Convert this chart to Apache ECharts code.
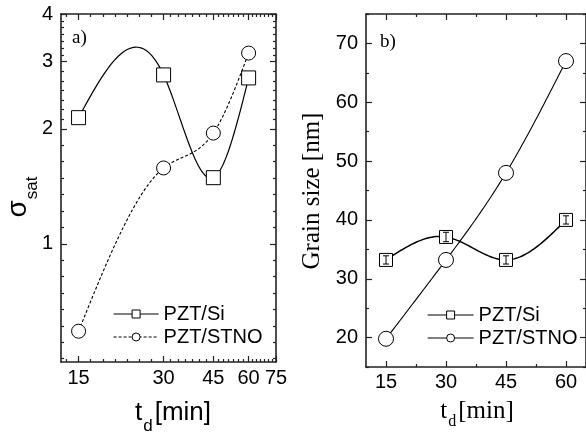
<!DOCTYPE html>
<html>
<head>
<meta charset="utf-8">
<script src="https://cdn.jsdelivr.net/npm/echarts@6/dist/echarts.min.js"></script>
<style>html,body{margin:0;padding:0;background:#fff;}#c{width:586px;height:434px;}</style>
</head>
<body>
<div id="c"></div>
<script>
// ---- data ----
const tMin = [15, 30, 45, 60];
const sigmaSi = [2.14, 2.77, 1.49, 2.72];
const sigmaSTNO = [0.59, 1.58, 1.95, 3.16];
const grainSi = [33.2, 37.1, 33.2, 40.0];
const grainSiErr = [0.7, 0.8, 0.7, 0.7];
const grainSTNO = [19.8, 33.2, 48.0, 67.0];
// ---- tick labels ----
const aXTicks = [15, 30, 45, 60, 75];
const aYTicks = [1, 2, 3, 4];
const bXTicks = [15, 30, 45, 60];
const bXMinor = [22.5, 37.5, 52.5];
const bYTicks = [20, 30, 40, 50, 60, 70];
const bYMinor = [15, 25, 35, 45, 55, 65, 75];

function logMinors(majors, lo, n) {
  const out = [];
  for (let i = 0; i < majors.length - 1; i++) {
    const r = Math.pow(majors[i + 1] / majors[i], 1 / (n + 1));
    for (let k = 1; k <= n; k++) out.push(majors[i] * Math.pow(r, k));
  }
  const r0 = Math.pow(majors[1] / majors[0], 1 / (n + 1));
  let v = majors[0] / r0;
  while (v >= lo) { out.push(v); v /= r0; }
  return out;
}
const aXMinor = logMinors(aXTicks, 13, 6);
const aYMinor = logMinors(aYTicks, 0.49, 6);

const AX = '#222';
function ax(base, pos, ticks, len, labels, showLine, margin) {
  return Object.assign({}, base, {
    position: pos,
    axisLine: { show: showLine, onZero: false, lineStyle: { color: AX, width: 1.6 } },
    axisTick: { show: true, inside: true, length: len, customValues: ticks, lineStyle: { color: AX, width: 1.2 } },
    axisLabel: labels ? { show: true, customValues: labels, margin: margin, fontSize: 20, fontFamily: 'Liberation Sans', color: '#000' } : { show: false },
    splitLine: { show: false },
    minorTick: { show: false },
    minorSplitLine: { show: false }
  });
}

const aX = { type: 'log', logBase: 10, min: 13, max: 75, gridIndex: 0 };
const aY = { type: 'log', logBase: 10, min: 0.49, max: 4, gridIndex: 0 };
const bX = { type: 'value', min: 10, max: 65, gridIndex: 1 };
const bY = { type: 'value', min: 15, max: 75, gridIndex: 1 };

const xAxes = [
  ax(aX, 'bottom', aXTicks, 6, aXTicks, true, 6),
  ax(aX, 'bottom', aXMinor, 3, null, false),
  ax(aX, 'top', aXTicks, 6, null, true),
  ax(aX, 'top', aXMinor, 3, null, false),
  ax(bX, 'bottom', bXTicks, 6, bXTicks, true, 5),
  ax(bX, 'bottom', bXMinor, 3, null, false),
  ax(bX, 'top', bXTicks, 6, null, true),
  ax(bX, 'top', bXMinor, 3, null, false)
];
const yAxes = [
  ax(aY, 'left', aYTicks, 6, aYTicks, true, 8),
  ax(aY, 'left', aYMinor, 3, null, false),
  ax(aY, 'right', aYTicks, 6, null, true),
  ax(aY, 'right', aYMinor, 3, null, false),
  ax(bY, 'left', bYTicks, 6, bYTicks, true, 8),
  ax(bY, 'left', bYMinor, 3, null, false),
  ax(bY, 'right', bYTicks, 6, null, true),
  ax(bY, 'right', bYMinor, 3, null, false)
];

const hollow = { color: '#fff', borderColor: '#000', borderWidth: 1 };
function pairs(xs, ys) { return xs.map((x, i) => [x, ys[i]]); }

// natural cubic spline through the pixel positions given by the axes
function splinePoints(p) {
  const n = p.length, h = [], d = [], M = new Array(n).fill(0);
  for (let i = 0; i < n - 1; i++) { h[i] = p[i + 1][0] - p[i][0]; d[i] = (p[i + 1][1] - p[i][1]) / h[i]; }
  if (n > 2) {
    const a = [], b = [], c = [], r = [];
    for (let i = 1; i < n - 1; i++) { a.push(h[i - 1]); b.push(2 * (h[i - 1] + h[i])); c.push(h[i]); r.push(6 * (d[i] - d[i - 1])); }
    const m = b.length;
    for (let i = 1; i < m; i++) { const w = a[i] / b[i - 1]; b[i] -= w * c[i - 1]; r[i] -= w * r[i - 1]; }
    const s = new Array(m);
    s[m - 1] = r[m - 1] / b[m - 1];
    for (let i = m - 2; i >= 0; i--) s[i] = (r[i] - c[i] * s[i + 1]) / b[i];
    for (let i = 0; i < m; i++) M[i + 1] = s[i];
  }
  const out = [];
  for (let i = 0; i < n - 1; i++) {
    const N = 30;
    for (let k = 0; k <= N; k++) {
      if (i > 0 && k === 0) continue;
      const t = k / N, x = p[i][0] + t * h[i];
      const y = (1 - t) * p[i][1] + t * p[i + 1][1] +
        h[i] * h[i] / 6 * (((1 - t) * (1 - t) * (1 - t) - (1 - t)) * M[i] + (t * t * t - t) * M[i + 1]);
      out.push([x, y]);
    }
  }
  return out;
}
function splineSeries(xs, ys, xi, yi, style) {
  return { type: 'custom', xAxisIndex: xi, yAxisIndex: yi, z: 1, silent: true,
    data: pairs(xs, ys),
    renderItem: function (params, api) {
      if (params.dataIndex !== 0) return null;
      const pts = xs.map((x, i) => api.coord([x, ys[i]]));
      return { type: 'polyline', shape: { points: splinePoints(pts) },
        style: Object.assign({ stroke: '#000', fill: 'none' }, style) };
    } };
}
function markerSeries(name, xs, ys, xi, yi, symbol, size, dash) {
  return { name: name, type: 'line', xAxisIndex: xi, yAxisIndex: yi, z: 2, data: pairs(xs, ys),
    symbol: symbol, symbolSize: size, itemStyle: hollow,
    lineStyle: { color: '#000', width: 0, type: dash || 'solid' } };
}

const series = [
  splineSeries(tMin, sigmaSi, 0, 0, { lineWidth: 1.2 }),
  splineSeries(tMin, sigmaSTNO, 0, 0, { lineWidth: 1.1, lineDash: [3, 2] }),
  splineSeries(tMin, grainSi, 4, 4, { lineWidth: 1.5 }),
  splineSeries(tMin, grainSTNO, 4, 4, { lineWidth: 1.1 }),
  markerSeries('a:PZT/Si', tMin, sigmaSi, 0, 0, 'rect', 14),
  markerSeries('a:PZT/STNO', tMin, sigmaSTNO, 0, 0, 'circle', 14, [3, 2]),
  markerSeries('b:PZT/Si', tMin, grainSi, 4, 4, 'rect', 13),
  markerSeries('b:PZT/STNO', tMin, grainSTNO, 4, 4, 'circle', 15),
  { type: 'custom', xAxisIndex: 4, yAxisIndex: 4, z: 10, silent: true,
    data: tMin.map((t, i) => [t, grainSi[i], grainSiErr[i]]),
    renderItem: function (params, api) {
      const x = api.value(0), y = api.value(1), e = api.value(2);
      const p1 = api.coord([x, y + e]), p2 = api.coord([x, y - e]);
      const c = 3, st = { stroke: '#000', lineWidth: 1 };
      return { type: 'group', children: [
        { type: 'line', shape: { x1: p1[0], y1: p1[1], x2: p2[0], y2: p2[1] }, style: st },
        { type: 'line', shape: { x1: p1[0] - c, y1: p1[1], x2: p1[0] + c, y2: p1[1] }, style: st },
        { type: 'line', shape: { x1: p2[0] - c, y1: p2[1], x2: p2[0] + c, y2: p2[1] }, style: st }
      ] };
    } }
];

function legend(left, top, names, w) {
  return { left: left, top: top, orient: 'vertical', itemWidth: w, itemHeight: 10, itemGap: 3, padding: 0,
    selectedMode: false, data: names, formatter: n => n.slice(2),
    lineStyle: { width: 1.2, opacity: 1 }, itemStyle: { borderWidth: 1 },
    textStyle: { fontSize: 20, fontFamily: 'Liberation Sans', color: '#000', lineHeight: 20, padding: [0, 0, 0, 0] } };
}

function subTitle(x, y, font, size, subSize, L, rot) {
  return { type: 'text', x: x, y: y, rotation: rot || 0,
    style: { text: '{m|' + (rot ? 'σ' : 't') + '}{s|' + (rot ? 'sat' : 'd') + '}' + (rot ? '' : '{m|[min]}'),
      textAlign: 'center', align: 'center', textVerticalAlign: 'middle', verticalAlign: 'middle', fill: '#000',
      rich: { m: { fontSize: size, fontFamily: font, lineHeight: 30, verticalAlign: 'middle' },
              s: { fontSize: subSize, fontFamily: font, lineHeight: L, verticalAlign: 'bottom', padding: [0, 2, 0, 1] } } } };
}

const option = {
  animation: false,
  backgroundColor: '#fff',
  grid: [
    { left: 61, top: 14, width: 215, height: 348 },
    { left: 366, top: 14, right: -2, height: 353 }
  ],
  xAxis: xAxes,
  yAxis: yAxes,
  legend: [
    legend(113, 304, ['a:PZT/Si', 'a:PZT/STNO'], 45),
    legend(427, 305, ['b:PZT/Si', 'b:PZT/STNO'], 46)
  ],
  series: series,
  graphic: [
    { type: 'text', x: 72, y: 38, style: { text: 'a)', font: '19px "Liberation Serif"', fill: '#000', textAlign: 'left', align: 'left', textVerticalAlign: 'middle', verticalAlign: 'middle' } },
    { type: 'text', x: 380, y: 42, style: { text: 'b)', font: '19px "Liberation Serif"', fill: '#000', textAlign: 'left', align: 'left', textVerticalAlign: 'middle', verticalAlign: 'middle' } },
    subTitle(18, 196, 'Liberation Sans', 28, 17, 45, Math.PI / 2),
    subTitle(173, 413, 'Liberation Sans', 26, 17, 43),
    { type: 'text', x: 312, y: 191, rotation: Math.PI / 2,
      style: { text: 'Grain size [nm]', font: '25px "Liberation Serif"', fill: '#000', textAlign: 'center', align: 'center', textVerticalAlign: 'middle', verticalAlign: 'middle' } },
    subTitle(477, 411, 'Liberation Serif', 25, 16, 38)
  ]
};

const chart = echarts.init(document.getElementById('c'), null, { renderer: 'canvas' });
chart.setOption(option);
</script>
</body>
</html>
